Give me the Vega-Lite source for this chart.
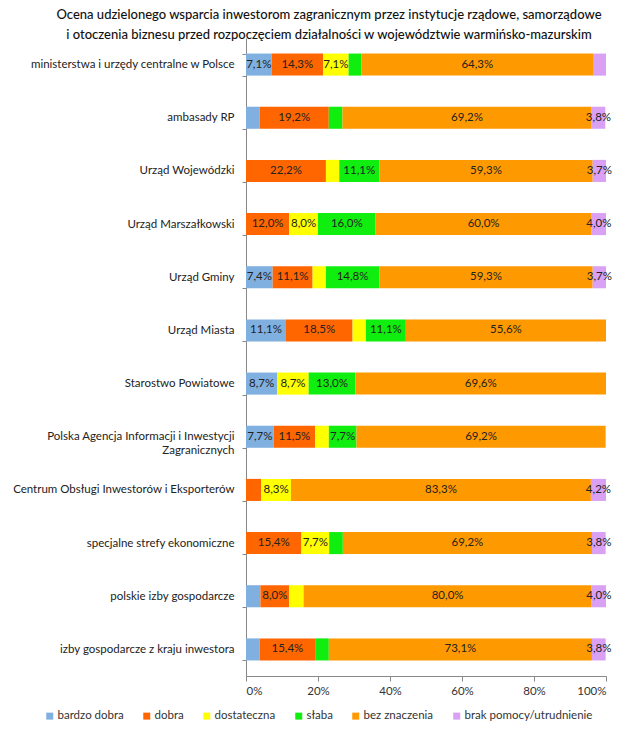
{
  "$schema": "https://vega.github.io/schema/vega-lite/v6.json",
  "autosize": {"type": "none"},
  "width": 360,
  "height": 638,
  "padding": {"left": 246, "top": 38, "right": 24, "bottom": 56},
  "background": "white",
  "title": {
    "text": ["Ocena udzielonego wsparcia inwestorom zagranicznym przez instytucje rządowe, samorządowe", "i otoczenia biznesu przed rozpoczęciem działalności w województwie warmińsko-mazurskim"],
    "anchor": "middle",
    "dx": -97,
    "dy": 12,
    "offset": 2,
    "fontSize": 13,
    "fontWeight": 500,
    "font": "Lato",
    "color": "#111111",
    "lineHeight": 20
  },
  "config": {
    "locale": {"number": {"decimal": ",", "thousands": "\u00a0", "grouping": [3], "currency": ["", " zł"]}},
    "view": {"stroke": null},
    "font": "Lato"
  },
  "data": {
    "values": [
      {"inst": "ministerstwa i urzędy centralne w Polsce", "cat": "bardzo dobra", "k": 1, "v": 0.071},
      {"inst": "ministerstwa i urzędy centralne w Polsce", "cat": "dobra", "k": 2, "v": 0.143},
      {"inst": "ministerstwa i urzędy centralne w Polsce", "cat": "dostateczna", "k": 3, "v": 0.071},
      {"inst": "ministerstwa i urzędy centralne w Polsce", "cat": "słaba", "k": 4, "v": 0.036},
      {"inst": "ministerstwa i urzędy centralne w Polsce", "cat": "bez znaczenia", "k": 5, "v": 0.643},
      {"inst": "ministerstwa i urzędy centralne w Polsce", "cat": "brak pomocy/utrudnienie", "k": 6, "v": 0.036},
      {"inst": "ambasady RP", "cat": "bardzo dobra", "k": 1, "v": 0.038},
      {"inst": "ambasady RP", "cat": "dobra", "k": 2, "v": 0.192},
      {"inst": "ambasady RP", "cat": "słaba", "k": 4, "v": 0.038},
      {"inst": "ambasady RP", "cat": "bez znaczenia", "k": 5, "v": 0.692},
      {"inst": "ambasady RP", "cat": "brak pomocy/utrudnienie", "k": 6, "v": 0.038},
      {"inst": "Urząd Wojewódzki", "cat": "dobra", "k": 2, "v": 0.222},
      {"inst": "Urząd Wojewódzki", "cat": "dostateczna", "k": 3, "v": 0.037},
      {"inst": "Urząd Wojewódzki", "cat": "słaba", "k": 4, "v": 0.111},
      {"inst": "Urząd Wojewódzki", "cat": "bez znaczenia", "k": 5, "v": 0.593},
      {"inst": "Urząd Wojewódzki", "cat": "brak pomocy/utrudnienie", "k": 6, "v": 0.037},
      {"inst": "Urząd Marszałkowski", "cat": "dobra", "k": 2, "v": 0.12},
      {"inst": "Urząd Marszałkowski", "cat": "dostateczna", "k": 3, "v": 0.08},
      {"inst": "Urząd Marszałkowski", "cat": "słaba", "k": 4, "v": 0.16},
      {"inst": "Urząd Marszałkowski", "cat": "bez znaczenia", "k": 5, "v": 0.6},
      {"inst": "Urząd Marszałkowski", "cat": "brak pomocy/utrudnienie", "k": 6, "v": 0.04},
      {"inst": "Urząd Gminy", "cat": "bardzo dobra", "k": 1, "v": 0.074},
      {"inst": "Urząd Gminy", "cat": "dobra", "k": 2, "v": 0.111},
      {"inst": "Urząd Gminy", "cat": "dostateczna", "k": 3, "v": 0.037},
      {"inst": "Urząd Gminy", "cat": "słaba", "k": 4, "v": 0.148},
      {"inst": "Urząd Gminy", "cat": "bez znaczenia", "k": 5, "v": 0.593},
      {"inst": "Urząd Gminy", "cat": "brak pomocy/utrudnienie", "k": 6, "v": 0.037},
      {"inst": "Urząd Miasta", "cat": "bardzo dobra", "k": 1, "v": 0.111},
      {"inst": "Urząd Miasta", "cat": "dobra", "k": 2, "v": 0.185},
      {"inst": "Urząd Miasta", "cat": "dostateczna", "k": 3, "v": 0.037},
      {"inst": "Urząd Miasta", "cat": "słaba", "k": 4, "v": 0.111},
      {"inst": "Urząd Miasta", "cat": "bez znaczenia", "k": 5, "v": 0.556},
      {"inst": "Starostwo Powiatowe", "cat": "bardzo dobra", "k": 1, "v": 0.087},
      {"inst": "Starostwo Powiatowe", "cat": "dostateczna", "k": 3, "v": 0.087},
      {"inst": "Starostwo Powiatowe", "cat": "słaba", "k": 4, "v": 0.13},
      {"inst": "Starostwo Powiatowe", "cat": "bez znaczenia", "k": 5, "v": 0.696},
      {"inst": "Polska Agencja Informacji i Inwestycji Zagranicznych", "cat": "bardzo dobra", "k": 1, "v": 0.077},
      {"inst": "Polska Agencja Informacji i Inwestycji Zagranicznych", "cat": "dobra", "k": 2, "v": 0.115},
      {"inst": "Polska Agencja Informacji i Inwestycji Zagranicznych", "cat": "dostateczna", "k": 3, "v": 0.038},
      {"inst": "Polska Agencja Informacji i Inwestycji Zagranicznych", "cat": "słaba", "k": 4, "v": 0.077},
      {"inst": "Polska Agencja Informacji i Inwestycji Zagranicznych", "cat": "bez znaczenia", "k": 5, "v": 0.692},
      {"inst": "Centrum Obsługi Inwestorów i Eksporterów", "cat": "dobra", "k": 2, "v": 0.042},
      {"inst": "Centrum Obsługi Inwestorów i Eksporterów", "cat": "dostateczna", "k": 3, "v": 0.083},
      {"inst": "Centrum Obsługi Inwestorów i Eksporterów", "cat": "bez znaczenia", "k": 5, "v": 0.833},
      {"inst": "Centrum Obsługi Inwestorów i Eksporterów", "cat": "brak pomocy/utrudnienie", "k": 6, "v": 0.042},
      {"inst": "specjalne strefy ekonomiczne", "cat": "dobra", "k": 2, "v": 0.154},
      {"inst": "specjalne strefy ekonomiczne", "cat": "dostateczna", "k": 3, "v": 0.077},
      {"inst": "specjalne strefy ekonomiczne", "cat": "słaba", "k": 4, "v": 0.038},
      {"inst": "specjalne strefy ekonomiczne", "cat": "bez znaczenia", "k": 5, "v": 0.692},
      {"inst": "specjalne strefy ekonomiczne", "cat": "brak pomocy/utrudnienie", "k": 6, "v": 0.038},
      {"inst": "polskie izby gospodarcze", "cat": "bardzo dobra", "k": 1, "v": 0.04},
      {"inst": "polskie izby gospodarcze", "cat": "dobra", "k": 2, "v": 0.08},
      {"inst": "polskie izby gospodarcze", "cat": "dostateczna", "k": 3, "v": 0.04},
      {"inst": "polskie izby gospodarcze", "cat": "bez znaczenia", "k": 5, "v": 0.8},
      {"inst": "polskie izby gospodarcze", "cat": "brak pomocy/utrudnienie", "k": 6, "v": 0.04},
      {"inst": "izby gospodarcze z kraju inwestora", "cat": "bardzo dobra", "k": 1, "v": 0.038},
      {"inst": "izby gospodarcze z kraju inwestora", "cat": "dobra", "k": 2, "v": 0.154},
      {"inst": "izby gospodarcze z kraju inwestora", "cat": "słaba", "k": 4, "v": 0.038},
      {"inst": "izby gospodarcze z kraju inwestora", "cat": "bez znaczenia", "k": 5, "v": 0.731},
      {"inst": "izby gospodarcze z kraju inwestora", "cat": "brak pomocy/utrudnienie", "k": 6, "v": 0.038}
    ]
  },
  "transform": [
    {"stack": "v", "groupby": ["inst"], "sort": [{"field": "k", "order": "ascending"}], "as": ["x0", "x1"]},
    {"calculate": "(datum.x0 + datum.x1) / 2", "as": "mid"}
  ],
  "encoding": {
    "y": {
      "field": "inst",
      "type": "nominal",
      "sort": ["ministerstwa i urzędy centralne w Polsce", "ambasady RP", "Urząd Wojewódzki", "Urząd Marszałkowski", "Urząd Gminy", "Urząd Miasta", "Starostwo Powiatowe", "Polska Agencja Informacji i Inwestycji Zagranicznych", "Centrum Obsługi Inwestorów i Eksporterów", "specjalne strefy ekonomiczne", "polskie izby gospodarcze", "izby gospodarcze z kraju inwestora"],
      "scale": {"paddingInner": 0.585, "paddingOuter": 0.2925},
      "axis": {
        "title": null,
        "labelFontSize": 11.5,
        "labelColor": "#222222",
        "labelPadding": 8,
        "labelLimit": 245,
        "tickBand": "extent",
        "tickSize": 4,
        "tickColor": "#888888",
        "domainColor": "#888888",
        "labelExpr": "datum.label == 'Polska Agencja Informacji i Inwestycji Zagranicznych' ? ['Polska Agencja Informacji i Inwestycji', 'Zagranicznych'] : datum.label"
      }
    }
  },
  "layer": [
    {
      "mark": {"type": "bar"},
      "encoding": {
        "x": {
          "field": "x0",
          "type": "quantitative",
          "scale": {"domain": [0, 1], "nice": false},
          "axis": {
            "title": null,
            "values": [0, 0.2, 0.4, 0.6, 0.8, 1],
            "format": ".0%",
            "grid": false,
            "labelFontSize": 11.5,
            "labelColor": "#333333",
            "tickSize": 5,
            "tickColor": "#888888",
            "domainColor": "#888888",
            "labelPadding": 4
          }
        },
        "x2": {"field": "x1"},
        "color": {
          "field": "cat",
          "type": "nominal",
          "scale": {
            "domain": ["bardzo dobra", "dobra", "dostateczna", "słaba", "bez znaczenia", "brak pomocy/utrudnienie"],
            "range": ["#80b0e0", "#ff6600", "#ffff00", "#10ee10", "#ff9900", "#d9a0f4"]
          },
          "legend": {
            "title": null,
            "orient": "none",
            "direction": "horizontal",
            "columns": 6,
            "legendX": -202,
            "legendY": 672,
            "symbolType": "square",
            "symbolSize": 49,
            "symbolStrokeWidth": 0,
            "labelFontSize": 11.5,
            "labelColor": "#333333",
            "labelOffset": 2,
            "columnPadding": 17
          }
        }
      }
    },
    {
      "transform": [
        {"filter": "datum.v >= 0.05 || (datum.cat == 'brak pomocy/utrudnienie' && datum.v >= 0.037)"}
      ],
      "mark": {"type": "text", "align": "center", "baseline": "middle", "fontSize": 11.5, "color": "#222222"},
      "encoding": {
        "x": {"field": "mid", "type": "quantitative"},
        "text": {"field": "v", "type": "quantitative", "format": ".1%"}
      }
    }
  ]
}
